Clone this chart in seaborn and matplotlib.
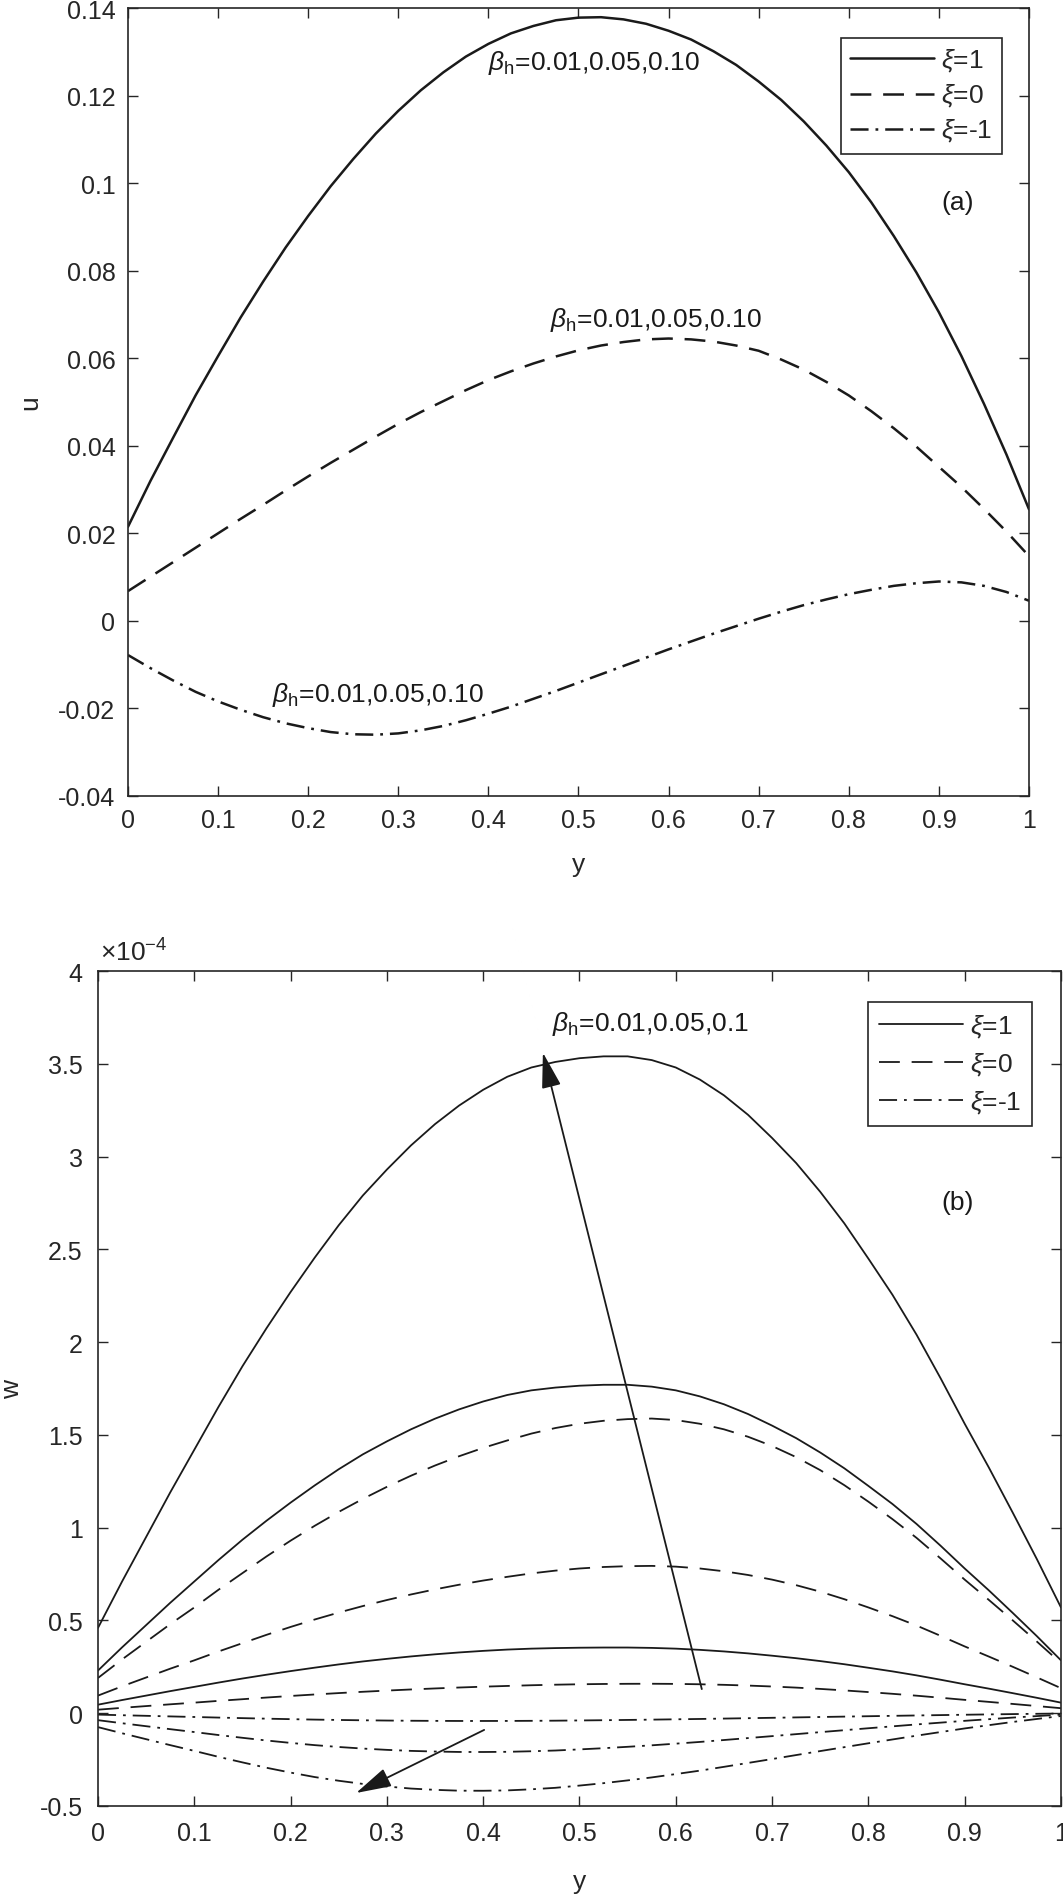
import matplotlib
matplotlib.use("Agg")
import matplotlib.pyplot as plt
import seaborn as sns
import pandas as pd

# ---------------- data ----------------
y_grid = [0.000, 0.025, 0.050, 0.075, 0.100, 0.125, 0.150, 0.175, 0.200, 0.225, 0.250,
          0.275, 0.300, 0.325, 0.350, 0.375, 0.400, 0.425, 0.450, 0.475, 0.500,
          0.525, 0.550, 0.575, 0.600, 0.625, 0.650, 0.675, 0.700, 0.725, 0.750,
          0.775, 0.800, 0.825, 0.850, 0.875, 0.900, 0.925, 0.950, 0.975, 1.000]

# panel (a): u(y); the three beta_h curves coincide for each xi
u_xi1 = [0.0215, 0.0320, 0.0418, 0.0515, 0.0605, 0.0693, 0.0775, 0.0853, 0.0925, 0.0993, 0.1055,
         0.1113, 0.1165, 0.1212, 0.1253, 0.1289, 0.1318, 0.1342, 0.1359, 0.1372, 0.1378,
         0.1379, 0.1374, 0.1364, 0.1348, 0.1328, 0.1301, 0.1270, 0.1232, 0.1190, 0.1141,
         0.1086, 0.1025, 0.0956, 0.0879, 0.0796, 0.0705, 0.0605, 0.0496, 0.0380, 0.0255]
u_xi0 = [0.0068, 0.0101, 0.0134, 0.0167, 0.0200, 0.0233, 0.0265, 0.0298, 0.0330, 0.0361, 0.0391,
         0.0421, 0.0450, 0.0477, 0.0502, 0.0527, 0.0550, 0.0570, 0.0588, 0.0604, 0.0618,
         0.0629, 0.0637, 0.0643, 0.0645, 0.0643, 0.0638, 0.0629, 0.0617, 0.0597, 0.0574,
         0.0546, 0.0515, 0.0479, 0.0440, 0.0398, 0.0352, 0.0306, 0.0256, 0.0204, 0.0148]
u_xim1 = [-0.0078, -0.0108, -0.0136, -0.0162, -0.0184, -0.0203, -0.0220, -0.0234, -0.0245, -0.0254, -0.0259,
          -0.0260, -0.0257, -0.0250, -0.0240, -0.0227, -0.0212, -0.0196, -0.0178, -0.0160, -0.0141,
          -0.0122, -0.0103, -0.0084, -0.0065, -0.0047, -0.0029, -0.0012, 0.0005, 0.0021, 0.0036,
          0.0049, 0.0061, 0.0071, 0.0080, 0.0086, 0.0090, 0.0088, 0.0080, 0.0066, 0.0046]

# panel (b): w(y) in units of 1e-4
w_xi1_b010 = [0.46, 0.71, 0.95, 1.19, 1.42, 1.65, 1.87, 2.075, 2.27, 2.455, 2.63,
              2.79, 2.93, 3.06, 3.175, 3.275, 3.36, 3.43, 3.48, 3.51, 3.53,
              3.54, 3.54, 3.52, 3.48, 3.415, 3.33, 3.225, 3.10, 2.965, 2.81,
              2.64, 2.45, 2.255, 2.04, 1.805, 1.56, 1.325, 1.08, 0.83, 0.57]
w_xi1_b005 = [0.23, 0.355, 0.475, 0.595, 0.71, 0.825, 0.935, 1.0375, 1.135, 1.2275, 1.315,
              1.395, 1.465, 1.53, 1.5875, 1.6375, 1.68, 1.715, 1.74, 1.755, 1.765,
              1.77, 1.77, 1.76, 1.74, 1.7075, 1.665, 1.6125, 1.55, 1.4825, 1.405,
              1.32, 1.225, 1.1275, 1.02, 0.9025, 0.78, 0.6625, 0.54, 0.415, 0.285]
w_xi1_b001 = [0.046, 0.071, 0.095, 0.119, 0.142, 0.165, 0.187, 0.2075, 0.227, 0.2455, 0.263,
              0.279, 0.293, 0.306, 0.3175, 0.3275, 0.336, 0.343, 0.348, 0.351, 0.353,
              0.354, 0.354, 0.352, 0.348, 0.3415, 0.333, 0.3225, 0.310, 0.2965, 0.281,
              0.264, 0.245, 0.2255, 0.204, 0.1805, 0.156, 0.1325, 0.108, 0.083, 0.057]
w_xi0_b010 = [0.19, 0.29, 0.385, 0.48, 0.57, 0.665, 0.755, 0.845, 0.93, 1.01, 1.085,
              1.155, 1.22, 1.28, 1.335, 1.385, 1.43, 1.47, 1.507, 1.537, 1.56,
              1.576, 1.585, 1.588, 1.58, 1.56, 1.53, 1.49, 1.44, 1.38, 1.31,
              1.229, 1.14, 1.046, 0.945, 0.834, 0.72, 0.611, 0.50, 0.386, 0.27]
w_xi0_b005 = [0.095, 0.145, 0.1925, 0.24, 0.285, 0.3325, 0.3775, 0.4225, 0.465, 0.505, 0.5425,
              0.5775, 0.61, 0.64, 0.6675, 0.6925, 0.715, 0.735, 0.7535, 0.7685, 0.78,
              0.788, 0.7925, 0.794, 0.79, 0.78, 0.765, 0.745, 0.72, 0.69, 0.655,
              0.6145, 0.57, 0.523, 0.4725, 0.417, 0.36, 0.3055, 0.25, 0.193, 0.135]
w_xi0_b001 = [0.019, 0.029, 0.0385, 0.048, 0.057, 0.0665, 0.0755, 0.0845, 0.093, 0.101, 0.1085,
              0.1155, 0.122, 0.128, 0.1335, 0.1385, 0.143, 0.147, 0.1507, 0.1537, 0.156,
              0.1576, 0.1585, 0.1588, 0.158, 0.156, 0.153, 0.149, 0.144, 0.138, 0.131,
              0.1229, 0.114, 0.1046, 0.0945, 0.0834, 0.072, 0.0611, 0.050, 0.0386, 0.027]
w_xim1_b010 = [-0.075, -0.108, -0.14, -0.172, -0.203, -0.235, -0.265, -0.294, -0.32, -0.344, -0.364,
               -0.381, -0.395, -0.406, -0.413, -0.4175, -0.418, -0.416, -0.41, -0.402, -0.39,
               -0.377, -0.362, -0.346, -0.328, -0.3095, -0.289, -0.268, -0.247, -0.2255, -0.204,
               -0.183, -0.162, -0.1415, -0.121, -0.1015, -0.082, -0.0645, -0.047, -0.031, -0.015]
w_xim1_b005 = [-0.0375, -0.054, -0.07, -0.086, -0.1015, -0.1175, -0.1325, -0.147, -0.16, -0.172, -0.182,
               -0.1905, -0.1975, -0.203, -0.2065, -0.20875, -0.209, -0.208, -0.205, -0.201, -0.195,
               -0.1885, -0.181, -0.173, -0.164, -0.15475, -0.1445, -0.134, -0.1235, -0.11275, -0.102,
               -0.0915, -0.081, -0.07075, -0.0605, -0.05075, -0.041, -0.03225, -0.0235, -0.0155, -0.0075]
w_xim1_b001 = [-0.0075, -0.0108, -0.014, -0.0172, -0.0203, -0.0235, -0.0265, -0.0294, -0.032, -0.0344, -0.0364,
               -0.0381, -0.0395, -0.0406, -0.0413, -0.04175, -0.0418, -0.0416, -0.041, -0.0402, -0.039,
               -0.0377, -0.0362, -0.0346, -0.0328, -0.03095, -0.0289, -0.0268, -0.0247, -0.02255, -0.0204,
               -0.0183, -0.0162, -0.01415, -0.0121, -0.01015, -0.0082, -0.00645, -0.0047, -0.0031, -0.0015]

xi_labels = ["1", "0", "-1"]

x_ticks = [0, 0.1, 0.2, 0.3, 0.4, 0.5, 0.6, 0.7, 0.8, 0.9, 1.0]
x_tick_labels = ["0", "0.1", "0.2", "0.3", "0.4", "0.5", "0.6", "0.7", "0.8", "0.9", "1"]
u_ticks = [-0.04, -0.02, 0, 0.02, 0.04, 0.06, 0.08, 0.10, 0.12, 0.14]
u_tick_labels = ["-0.04", "-0.02", "0", "0.02", "0.04", "0.06", "0.08", "0.1", "0.12", "0.14"]
w_ticks = [-0.5, 0, 0.5, 1, 1.5, 2, 2.5, 3, 3.5, 4]
w_tick_labels = ["-0.5", "0", "0.5", "1", "1.5", "2", "2.5", "3", "3.5", "4"]

beta_text_a = r"$\beta_{\mathrm{h}}$=0.01,0.05,0.10"
beta_text_b = r"$\beta_{\mathrm{h}}$=0.01,0.05,0.1"
beta_pos_a = [(0.3996, 0.1261), (0.468, 0.0674), (0.160, -0.0184)]
beta_pos_b = (0.4715, 3.684)
arrow_up = ((0.627, 0.13), (0.462, 3.56))      # tail, head
arrow_down = ((0.401, -0.09), (0.268, -0.43))  # tail, head

# ---------------- style ----------------
sns.set_style("white")
plt.rcParams["font.family"] = ["Liberation Sans", "DejaVu Sans"]
plt.rcParams["mathtext.fontset"] = "custom"
plt.rcParams["mathtext.rm"] = "Liberation Sans"
plt.rcParams["mathtext.it"] = "Liberation Sans:italic"
plt.rcParams["mathtext.bf"] = "Liberation Sans:bold"
plt.rcParams["axes.unicode_minus"] = False
plt.rcParams["lines.scale_dashes"] = False

INK = "#262626"
LINE = "#1a1a1a"
STY = {"1": "-", "0": (0, (15, 8.5)), "-1": (0, (13, 5, 2, 5))}
FS = 19

fig = plt.figure(figsize=(10.63, 18.99), dpi=100)
ax1 = fig.add_axes([0.1204, 0.58031, 0.8476, 0.41495])
ax2 = fig.add_axes([0.0922, 0.04845, 0.9059, 0.4397])


def style_axes(ax, yt, ytl, pad):
    ax.set_xlim(0, 1)
    ax.set_xticks(x_ticks, x_tick_labels)
    ax.set_yticks(yt, ytl)
    ax.tick_params(direction="in", length=7, width=1.0, top=True, right=True,
                   bottom=True, left=True, labelsize=18, pad=pad, colors=INK)
    for s in ax.spines.values():
        s.set_visible(True)
        s.set_color(INK)
        s.set_linewidth(1.2)


# ---------- panel (a) ----------
df_a = pd.DataFrame({
    "y": y_grid * 3,
    "u": u_xi1 + u_xi0 + u_xim1,
    "xi": ["1"] * len(y_grid) + ["0"] * len(y_grid) + ["-1"] * len(y_grid),
})
handles_a = []
for xi in xi_labels:
    sub = df_a[df_a["xi"] == xi]
    sns.lineplot(data=sub, x="y", y="u", ax=ax1, color=LINE, lw=1.8,
                 linestyle=STY[xi], sort=False, estimator=None, legend=False)
    handles_a.append(ax1.lines[-1])
ax1.set_ylim(-0.04, 0.14)
style_axes(ax1, u_ticks, u_tick_labels, 9)
ax1.set_xlabel("y", fontsize=FS, color=INK)
ax1.set_ylabel("u", fontsize=FS, color=INK)
ax1.xaxis.set_label_coords(0.5, -0.071)
ax1.yaxis.set_label_coords(-0.0955, 0.5)
leg = ax1.legend(handles_a, [r"$\xi$=" + x for x in xi_labels], loc="upper right",
                 bbox_to_anchor=(0.970, 0.962), frameon=True, fancybox=False,
                 fontsize=FS, handlelength=3.2, handletextpad=0.27, labelspacing=0.3,
                 borderpad=0.35, borderaxespad=0, framealpha=1, edgecolor=INK)
leg.get_frame().set_linewidth(1.2)
for (bx, by) in beta_pos_a:
    ax1.text(bx, by, beta_text_a, fontsize=FS, ha="left", va="baseline", color=LINE)
ax1.text(0.921, 0.754, "(a)", transform=ax1.transAxes, fontsize=FS,
         ha="center", va="center", color=LINE)

# ---------- panel (b) ----------
curves_b = [
    ("1", w_xi1_b010), ("1", w_xi1_b005), ("1", w_xi1_b001),
    ("0", w_xi0_b010), ("0", w_xi0_b005), ("0", w_xi0_b001),
    ("-1", w_xim1_b010), ("-1", w_xim1_b005), ("-1", w_xim1_b001),
]
handles_b = {}
for xi, vals in curves_b:
    sns.lineplot(x=y_grid, y=vals, ax=ax2, color=LINE, lw=1.3,
                 linestyle=STY[xi], sort=False, estimator=None, legend=False)
    handles_b.setdefault(xi, ax2.lines[-1])
ax2.set_ylim(-0.5, 4)
style_axes(ax2, w_ticks, w_tick_labels, 11)
ax2.set_xlabel("y", fontsize=FS, color=INK)
ax2.set_ylabel("w", fontsize=FS, color=INK)
ax2.xaxis.set_label_coords(0.5, -0.0755)
ax2.yaxis.set_label_coords(-0.077, 0.5)
ax2.text(0.002, 1.006, r"$\times$10$^{\mathrm{-4}}$", transform=ax2.transAxes,
         fontsize=FS, ha="left", va="bottom", color=INK)
leg2 = ax2.legend([handles_b[x] for x in xi_labels], [r"$\xi$=" + x for x in xi_labels],
                  loc="upper right", bbox_to_anchor=(0.970, 0.963), frameon=True,
                  fancybox=False, fontsize=FS, handlelength=3.2, handletextpad=0.27,
                  labelspacing=0.42, borderpad=0.4, borderaxespad=0, framealpha=1,
                  edgecolor=INK)
leg2.get_frame().set_linewidth(1.2)
ax2.text(beta_pos_b[0], beta_pos_b[1], beta_text_b, fontsize=FS, ha="left",
         va="baseline", color=LINE)
ax2.text(0.893, 0.7234, "(b)", transform=ax2.transAxes, fontsize=FS,
         ha="center", va="center", color=LINE)
for tail, head in (arrow_up, arrow_down):
    ax2.annotate("", xy=head, xytext=tail,
                 arrowprops=dict(arrowstyle="-|>,head_length=1.1,head_width=0.3",
                                 mutation_scale=20, color=LINE, lw=1.3,
                                 shrinkA=0, shrinkB=0))

fig.savefig("out.png", dpi=100)
